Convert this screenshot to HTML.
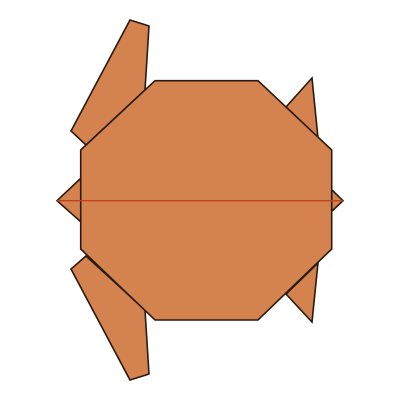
<!DOCTYPE html>
<html><head><style>html,body{margin:0;background:#fff}</style></head><body>
<svg width="400" height="400" viewBox="0 0 400 400">
<g fill="#D4834F" stroke="#2a1a10" stroke-width="1.6" stroke-linejoin="miter">
<polygon points="130,20 149,26 145,90 86,145 71,131"/>
<polygon points="130,380 149,374 145,310 86,256 71,269"/>
<polygon points="312,78 318,138 286,107"/>
<polygon points="312,322 318,263 286,294"/>
<polygon points="57,200.7 81,178 81,222"/>
<polygon points="343,200.7 331,189 331,212"/>
<polygon points="155,80.7 258,80.7 331.7,150 331.7,249 258,320 155,320 80.7,249 80.7,150"/>
</g>
<line x1="57" y1="200.7" x2="343" y2="200.7" stroke="#c0431e" stroke-width="1.3"/>
</svg>
</body></html>
